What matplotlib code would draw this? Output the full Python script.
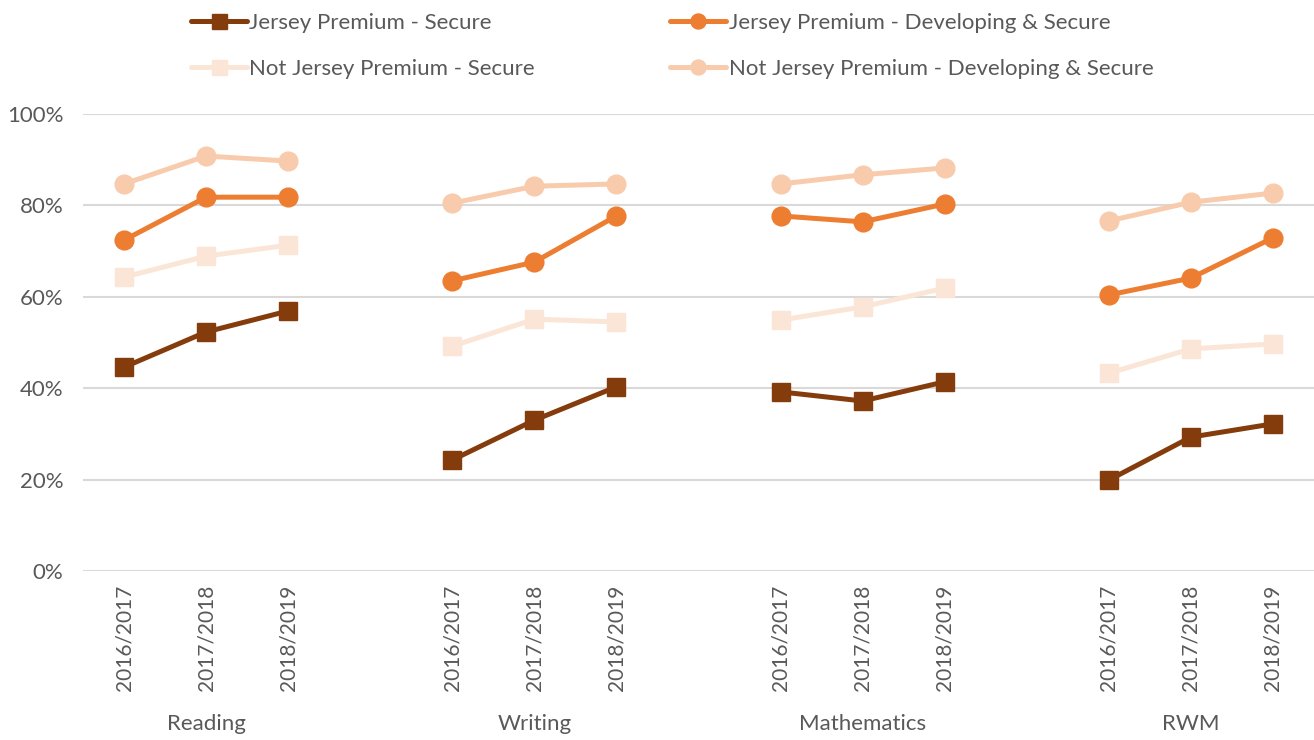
import matplotlib.pyplot as plt
import matplotlib.transforms as mtransforms

plt.rcParams['font.family'] = ['Lato', 'DejaVu Sans']

subjects = ["Reading", "Writing", "Mathematics", "RWM"]
years = ["2016/2017", "2017/2018", "2018/2019"]

# values in %, per subject (3 years each)
jp_secure = [[44.6, 52.3, 56.9], [24.3, 33.0, 40.3], [39.2, 37.2, 41.4], [19.9, 29.3, 32.2]]
jp_dev_secure = [[72.4, 81.8, 81.8], [63.5, 67.6, 77.7], [77.7, 76.4, 80.3], [60.4, 64.1, 72.9]]
njp_secure = [[64.3, 68.9, 71.3], [49.2, 55.1, 54.5], [54.9, 57.8, 61.9], [43.3, 48.6, 49.7]]
njp_dev_secure = [[84.7, 90.8, 89.7], [80.5, 84.2, 84.7], [84.7, 86.7, 88.2], [76.6, 80.7, 82.7]]

series = [
    ("Jersey Premium - Secure", jp_secure, "#843C0C", "s"),
    ("Not Jersey Premium - Secure", njp_secure, "#FBE5D6", "s"),
    ("Jersey Premium - Developing & Secure", jp_dev_secure, "#ED7D31", "o"),
    ("Not Jersey Premium - Developing & Secure", njp_dev_secure, "#F8CBAD", "o"),
]

fig = plt.figure(figsize=(13.14, 7.40), dpi=100)
ax = fig.add_axes([83 / 1314, 1 - 571 / 740, 1 - 83 / 1314, (571 - 114) / 740])

gap = 4
xs_all = []
for g in range(len(subjects)):
    xs_all += [g * gap + i for i in range(len(years))]

handles = []
for name, vals, col, mk in series:
    for g in range(len(subjects)):
        xs = [g * gap + i for i in range(len(years))]
        h, = ax.plot(xs, vals[g], color=col, lw=3.6, marker=mk, markersize=13.5,
                     solid_capstyle='round', label=name, zorder=3)
    handles.append(h)

ax.set_ylim(0, 100)
ax.set_xlim(-0.5, (len(subjects) - 1) * gap + len(years) - 0.5)
ax.set_yticks(range(0, 101, 20))
ax.set_yticklabels([f"{v}%" for v in range(0, 101, 20)])
ax.set_xticks(xs_all)
ax.set_xticklabels(years * len(subjects), rotation=90)
ax.tick_params(length=0, colors="#595959")
ax.tick_params(axis='x', labelsize=15, pad=10)
ax.tick_params(axis='y', labelsize=16, pad=14)
ax.grid(axis='y', color="#D9D9D9", lw=1.5)
ax.set_axisbelow(True)
for s in ax.spines.values():
    s.set_visible(False)

trans = mtransforms.blended_transform_factory(ax.transData, fig.transFigure)
for g, subj in enumerate(subjects):
    ax.text(g * gap + 1, 1 - 724 / 740, subj, transform=trans, ha='center', va='center',
            fontsize=16, color="#595959")

leg = fig.legend(handles=handles, ncol=2, loc='upper left', bbox_to_anchor=(171 / 1314, 1.010),
                 frameon=False, fontsize=16, handlelength=2.5, handletextpad=0.12,
                 columnspacing=6.1, labelspacing=1.2, labelcolor="#595959", markerscale=0.8)

fig.savefig("out.png", dpi=100)
